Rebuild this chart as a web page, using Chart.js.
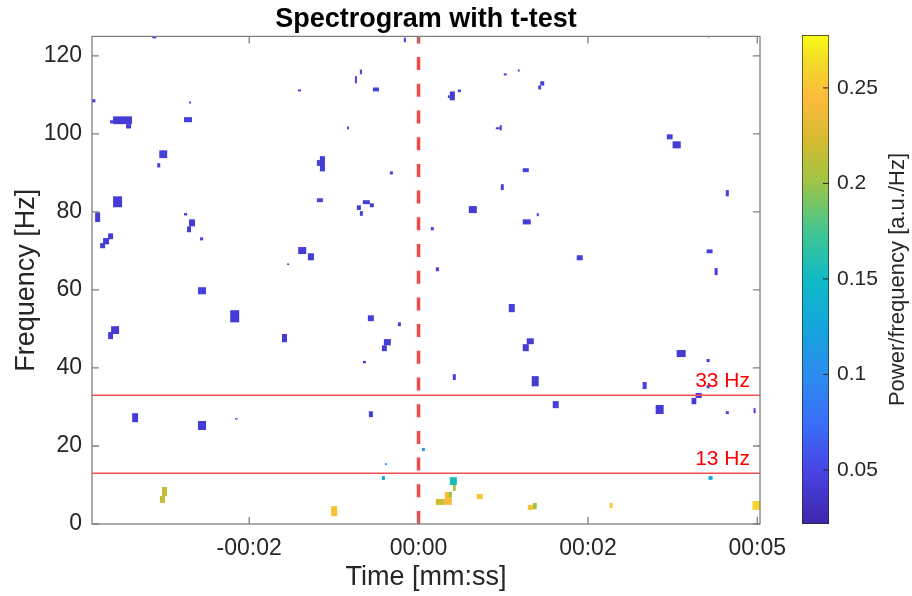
<!DOCTYPE html>
<html>
<head>
<meta charset="utf-8">
<script src="https://cdn.jsdelivr.net/npm/chart.js@4.4.1/dist/chart.umd.min.js"></script>
<style>
  body { margin: 0; background: #fff; }
  #wrap { position: relative; width: 912px; height: 596px; }
  #specCanvas { position: absolute; left: 0; top: 0; }
  #barCanvas { position: absolute; left: 760px; top: 0; }
</style>
</head>
<body>
<div id="wrap">
  <canvas id="specCanvas" width="912" height="596"></canvas>
  <canvas id="barCanvas" width="152" height="596"></canvas>
</div>
<script>
// axes
const timeRange = [-4.82, 5.04];
const freqRange = [0, 125];
const xTickValues = [-2.5, 0, 2.5, 5];
const xTickLabels = ["-00:02", "00:00", "00:02", "00:05"];
const yTickValues = [0, 20, 40, 60, 80, 100, 120];
const eventTime = 0;
const bandLines = [13, 33];
const bandLabels = ["13 Hz", "33 Hz"];
const powerRange = [0.0217, 0.2777];
const powerTicks = [0.05, 0.1, 0.15, 0.2, 0.25];
const powerTickLabels = ["0.05", "0.1", "0.15", "0.2", "0.25"];

// significant spectrogram cells: time span [s], frequency span [Hz], power
const blobTime = [
  [-4.82, -4.77], [-4.509, -4.229], [-4.317, -4.243], [-4.553, -4.509], [-3.462, -3.344],
  [-3.388, -3.358], [-3.827, -3.71], [-3.93, -3.87], [-0.217, -0.187], [-0.866, -0.836],
  [-0.939, -0.91], [-1.78, -1.735], [-0.674, -0.585], [-1.057, -1.028], [-1.456, -1.382],
  [-1.5, -1.456], [-0.423, -0.379], [1.258, 1.302], [1.465, 1.494], [1.796, 1.855],
  [1.766, 1.81], [0.462, 0.536], [0.433, 0.462], [0.58, 0.624], [1.198, 1.228],
  [1.14, 1.198], [1.538, 1.627], [4.27, 4.29], [3.665, 3.75], [3.75, 3.87],
  [4.535, 4.58], [-3.857, -3.813], [-4.509, -4.376], [-4.774, -4.7], [-4.582, -4.509],
  [-4.656, -4.568], [-4.7, -4.627], [-3.462, -3.417], [-3.388, -3.3], [-3.417, -3.358],
  [-3.225, -3.18], [-3.255, -3.137], [-2.78, -2.647], [-4.538, -4.42], [-4.582, -4.509],
  [-1.5, -1.412], [-0.822, -0.719], [-0.719, -0.66], [-0.91, -0.851], [-0.866, -0.822],
  [0.181, 0.225], [-1.776, -1.658], [-1.633, -1.544], [-1.94, -1.91], [0.255, 0.3],
  [-0.748, -0.66], [-0.305, -0.261], [-2.016, -1.942], [-0.512, -0.409], [-0.541, -0.468],
  [-0.822, -0.777], [0.506, 0.55], [1.214, 1.258], [0.742, 0.86], [1.538, 1.656],
  [1.745, 1.774], [2.335, 2.423], [1.332, 1.42], [1.597, 1.701], [1.538, 1.627],
  [1.671, 1.774], [4.252, 4.34], [4.37, 4.415], [3.81, 3.943], [4.252, 4.297],
  [3.308, 3.367], [4.252, 4.297], [4.09, 4.18], [4.03, 4.1], [3.5, 3.618],
  [4.535, 4.58], [4.945, 4.975], [1.981, 2.069], [-4.227, -4.14], [-3.255, -3.137],
  [-2.71, -2.665], [-0.733, -0.674], [0.049, 0.093], [-0.497, -0.468], [-0.541, -0.497],
  [4.28, 4.34], [0.462, 0.565], [0.506, 0.55], [0.255, 0.388], [0.388, 0.491],
  [0.447, 0.491], [0.858, 0.947], [1.612, 1.686], [1.686, 1.745], [2.82, 2.865],
  [4.93, 5.04], [-1.29, -1.2], [-3.786, -3.712], [-3.816, -3.742]
];
const blobFreq = [
  [108.1, 108.9], [102.5, 104.5], [101.4, 102.5], [102.7, 103.5], [103.0, 104.3],
  [107.8, 108.3], [93.8, 95.8], [124.5, 125], [123.5, 124.7], [115.3, 116.5],
  [113.0, 114.8], [110.9, 111.4], [110.9, 111.9], [101.2, 101.9], [90.4, 94.3],
  [91.8, 93.3], [89.6, 90.4], [115.0, 115.5], [116.0, 116.5], [112.4, 113.5],
  [111.4, 112.4], [108.6, 110.9], [109.2, 109.9], [110.7, 111.4], [100.9, 102.2],
  [101.2, 101.7], [90.2, 91.2], [124.7, 125], [98.6, 99.9], [96.3, 98.1],
  [84.0, 85.6], [91.4, 92.5], [81.2, 84.0], [77.4, 79.9], [73.0, 74.5],
  [71.7, 73.3], [70.7, 72.0], [79.1, 79.7], [76.3, 78.1], [74.8, 76.3],
  [72.7, 73.5], [58.9, 60.7], [51.7, 54.8], [48.7, 50.7], [47.4, 49.2],
  [82.5, 83.5], [82.0, 83.0], [81.2, 82.2], [80.5, 81.7], [79.0, 80.2],
  [75.3, 76.1], [69.2, 71.0], [67.6, 69.4], [66.4, 66.8], [64.8, 65.8],
  [52.0, 53.5], [50.7, 51.7], [46.6, 48.7], [45.8, 47.4], [44.3, 45.8],
  [41.2, 41.8], [36.9, 38.4], [85.6, 87.1], [79.7, 81.5], [76.8, 78.1],
  [78.9, 79.7], [67.6, 68.9], [54.3, 56.4], [46.1, 47.6], [44.3, 46.1],
  [35.3, 37.9], [69.4, 70.4], [63.8, 65.6], [42.8, 44.6], [41.5, 42.3],
  [34.6, 36.4], [34.8, 35.6], [32.3, 33.6], [30.7, 32.3], [28.2, 30.5],
  [28.2, 28.9], [28.4, 29.7], [29.7, 31.5], [26.1, 28.4], [24.1, 26.4],
  [26.8, 27.1], [27.4, 28.9], [18.7, 19.5], [15.1, 15.6], [11.3, 12.3],
  [11.3, 12.3], [10.0, 12.0], [8.5, 10.0], [4.9, 6.4], [4.9, 8.2],
  [6.9, 8.2], [6.4, 7.7], [3.6, 4.9], [3.8, 5.4], [4.1, 5.4],
  [3.6, 5.9], [2.0, 4.6], [7.2, 9.5], [5.4, 7.2]
];
const blobPower = [
  0.045, 0.042, 0.042, 0.045, 0.045, 0.05, 0.045, 0.045, 0.05, 0.045,
  0.042, 0.045, 0.045, 0.045, 0.042, 0.042, 0.045, 0.045, 0.05, 0.045,
  0.045, 0.042, 0.042, 0.045, 0.045, 0.045, 0.045, 0.045, 0.045, 0.042,
  0.045, 0.045, 0.042, 0.042, 0.042, 0.042, 0.042, 0.045, 0.042, 0.042,
  0.045, 0.045, 0.042, 0.042, 0.042, 0.045, 0.042, 0.042, 0.042, 0.042,
  0.045, 0.042, 0.042, 0.05, 0.045, 0.045, 0.045, 0.042, 0.042, 0.042,
  0.045, 0.045, 0.045, 0.042, 0.042, 0.045, 0.045, 0.045, 0.042, 0.042,
  0.042, 0.045, 0.045, 0.042, 0.045, 0.045, 0.045, 0.042, 0.042, 0.042,
  0.045, 0.045, 0.045, 0.042, 0.042, 0.05, 0.045, 0.11, 0.11, 0.13,
  0.13, 0.155, 0.21, 0.22, 0.245, 0.2, 0.25, 0.25, 0.205, 0.255,
  0.26, 0.25, 0.215, 0.215
];

// parula-like colour map
const parulaStops = [
  [0.00, "#3e26a8"], [0.11, "#4744e6"], [0.20, "#3b6cf8"], [0.30, "#2d8bef"],
  [0.40, "#14a5dd"], [0.50, "#0fbac6"], [0.60, "#44c690"], [0.70, "#9ec445"],
  [0.78, "#d3bb30"], [0.87, "#fdba3d"], [0.94, "#f4d82a"], [1.00, "#f9fb15"]
];

function hexToRgb(h) {
  return [1, 3, 5].map((i) => parseInt(h.slice(i, i + 2), 16));
}

function parulaColor(value) {
  const frac = Math.min(1, Math.max(0, (value - powerRange[0]) / (powerRange[1] - powerRange[0])));
  for (let i = 1; i < parulaStops.length; i++) {
    if (frac <= parulaStops[i][0]) {
      const k = (frac - parulaStops[i - 1][0]) / (parulaStops[i][0] - parulaStops[i - 1][0]);
      const a = hexToRgb(parulaStops[i - 1][1]);
      const b = hexToRgb(parulaStops[i][1]);
      const c = a.map((v, j) => Math.round(v + (b[j] - v) * k));
      return `rgb(${c[0]}, ${c[1]}, ${c[2]})`;
    }
  }
  return parulaStops[parulaStops.length - 1][1];
}

const fontFamily = '"Liberation Sans", Arial, Helvetica, sans-serif';
Chart.defaults.font.family = fontFamily;
Chart.defaults.color = "#262626";

// paints the significant cells through the chart scales
const cellsPlugin = {
  id: "sigCells",
  beforeDatasetsDraw(chart) {
    const { ctx, chartArea, scales } = chart;
    ctx.save();
    ctx.beginPath();
    ctx.rect(chartArea.left, chartArea.top, chartArea.width, chartArea.height);
    ctx.clip();
    blobPower.forEach((p, i) => {
      const x0 = scales.x.getPixelForValue(blobTime[i][0]);
      const x1 = scales.x.getPixelForValue(blobTime[i][1]);
      const y0 = scales.y.getPixelForValue(blobFreq[i][1]);
      const y1 = scales.y.getPixelForValue(blobFreq[i][0]);
      ctx.fillStyle = parulaColor(p);
      ctx.fillRect(x0, y0, x1 - x0, y1 - y0);
    });
    ctx.restore();
  },
  afterDatasetsDraw(chart) {
    const { ctx, scales } = chart;
    ctx.save();
    ctx.fillStyle = "#ff0000";
    ctx.font = `21px ${fontFamily}`;
    ctx.textAlign = "right";
    ctx.textBaseline = "alphabetic";
    bandLines.forEach((f, i) => {
      ctx.fillText(bandLabels[i], scales.x.getPixelForValue(timeRange[1]) - 10, scales.y.getPixelForValue(f) - 8);
    });
    ctx.restore();
  },
  afterDraw(chart) {
    // box and inward ticks, MATLAB style
    const { ctx, chartArea: a, scales } = chart;
    ctx.save();
    ctx.strokeStyle = "#808080";
    ctx.lineWidth = 1.3;
    ctx.strokeRect(a.left, a.top, a.width, a.height);
    ctx.beginPath();
    xTickValues.forEach((v) => {
      const px = scales.x.getPixelForValue(v);
      ctx.moveTo(px, a.bottom); ctx.lineTo(px, a.bottom - 7);
      ctx.moveTo(px, a.top); ctx.lineTo(px, a.top + 7);
    });
    yTickValues.forEach((v) => {
      const py = scales.y.getPixelForValue(v);
      ctx.moveTo(a.left, py); ctx.lineTo(a.left + 7, py);
      ctx.moveTo(a.right, py); ctx.lineTo(a.right - 7, py);
    });
    ctx.stroke();
    ctx.restore();
  }
};

const lineDatasets = [
  {
    type: "line",
    data: [{ x: eventTime, y: freqRange[0] }, { x: eventTime, y: freqRange[1] }],
    borderColor: "#f24a4a",
    borderWidth: 3.5,
    borderDash: [13, 13.7],
    pointRadius: 0,
  },
  ...bandLines.map((f) => ({
    type: "line",
    data: [{ x: timeRange[0], y: f }, { x: timeRange[1], y: f }],
    borderColor: "#f05050",
    borderWidth: 1.5,
    pointRadius: 0,
  })),
];

new Chart(document.getElementById("specCanvas"), {
  type: "scatter",
  data: { datasets: lineDatasets },
  options: {
    responsive: false,
    devicePixelRatio: 1,
    animation: false,
    events: [],
    layout: { padding: { left: 0, right: 152, top: 0, bottom: 0 } },
    plugins: {
      legend: { display: false },
      tooltip: { enabled: false },
      title: {
        display: true,
        text: "Spectrogram with t-test",
        fullSize: false,
        color: "#000",
        font: { size: 27, weight: "bold", lineHeight: 1.2 },
        padding: { top: 3, bottom: 1 },
      },
    },
    scales: {
      x: {
        type: "linear",
        min: timeRange[0],
        max: timeRange[1],
        afterBuildTicks: (s) => { s.ticks = xTickValues.map((v) => ({ value: v })); },
        afterFit: (s) => { s.height = 72; },
        grid: { display: false, drawTicks: false },
        border: { display: false },
        ticks: {
          autoSkip: false,
          maxRotation: 0,
          padding: 11,
          font: { size: 23 },
          callback: (v) => xTickLabels[xTickValues.indexOf(v)],
        },
        title: { display: true, text: "Time [mm:ss]", font: { size: 27 }, padding: { top: 0, bottom: 2 } },
      },
      y: {
        type: "linear",
        min: freqRange[0],
        max: freqRange[1],
        afterBuildTicks: (s) => { s.ticks = yTickValues.map((v) => ({ value: v })); },
        afterFit: (s) => { s.width = 92; },
        grid: { display: false, drawTicks: false },
        border: { display: false },
        ticks: { padding: 10, font: { size: 23 }, callback: (v) => String(v) },
        title: { display: true, text: "Frequency [Hz]", font: { size: 27 }, padding: { top: 10, bottom: 0 } },
      },
    },
  },
  plugins: [cellsPlugin],
});

// colour bar
const colorbarPlugin = {
  id: "colorbarDecor",
  afterDraw(chart) {
    const { ctx, chartArea: a, scales } = chart;
    ctx.save();
    ctx.strokeStyle = "#262626";
    ctx.lineWidth = 1;
    ctx.beginPath();
    powerTicks.forEach((v) => {
      const py = scales.y.getPixelForValue(v);
      ctx.moveTo(a.right, py); ctx.lineTo(a.right - 6, py);
    });
    ctx.stroke();
    ctx.fillStyle = "#262626";
    ctx.font = `22px ${fontFamily}`;
    ctx.textAlign = "center";
    ctx.textBaseline = "middle";
    ctx.translate(138, (a.top + a.bottom) / 2);
    ctx.rotate(-Math.PI / 2);
    ctx.fillText("Power/frequency [a.u./Hz]", 0, 0);
    ctx.restore();
  }
};

new Chart(document.getElementById("barCanvas"), {
  type: "bar",
  data: {
    labels: [""],
    datasets: [{
      data: [powerRange],
      backgroundColor: (c) => {
        const { chartArea, scales } = c.chart;
        if (!chartArea) return parulaStops[0][1];
        const g = c.chart.ctx.createLinearGradient(0, scales.y.getPixelForValue(powerRange[0]), 0, scales.y.getPixelForValue(powerRange[1]));
        parulaStops.forEach(([p, col]) => g.addColorStop(p, col));
        return g;
      },
      borderColor: "#262626",
      borderWidth: 1,
      borderSkipped: false,
      barPercentage: 1,
      categoryPercentage: 1,
    }],
  },
  options: {
    responsive: false,
    devicePixelRatio: 1,
    animation: false,
    events: [],
    layout: { padding: { left: 42, right: 0, top: 35, bottom: 72 } },
    plugins: { legend: { display: false }, tooltip: { enabled: false } },
    scales: {
      x: { display: false },
      y: {
        position: "right",
        min: powerRange[0],
        max: powerRange[1],
        afterBuildTicks: (s) => { s.ticks = powerTicks.map((v) => ({ value: v })); },
        afterFit: (s) => { s.width = 83; },
        grid: { display: false, drawTicks: false },
        border: { display: false },
        ticks: { padding: 8, font: { size: 21 }, callback: (v) => powerTickLabels[powerTicks.indexOf(v)] },
      },
    },
  },
  plugins: [colorbarPlugin],
});
</script>
</body>
</html>
